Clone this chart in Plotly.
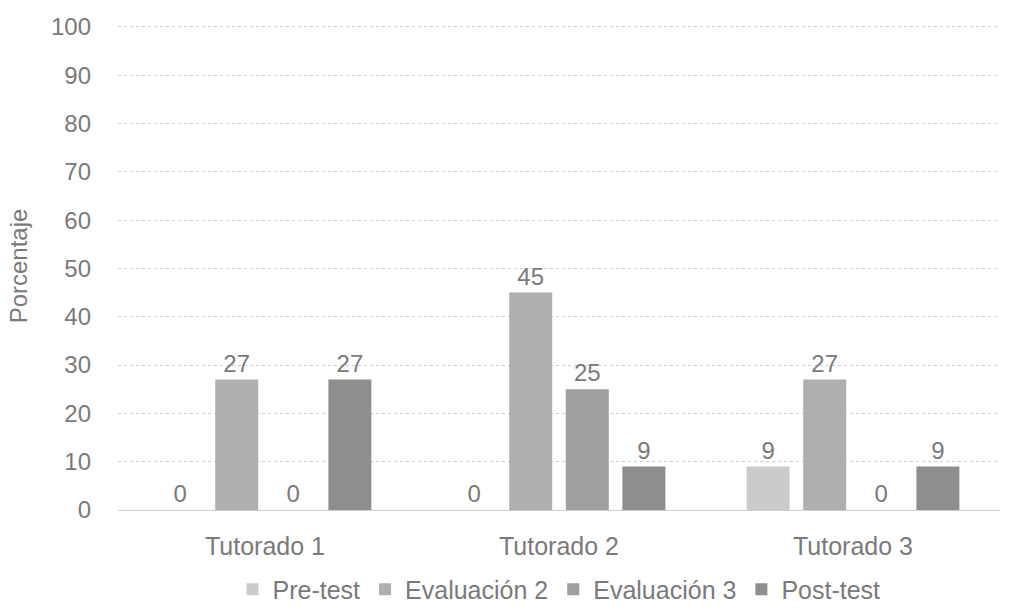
import plotly.graph_objects as go

categories = ["Tutorado 1", "Tutorado 2", "Tutorado 3"]
series_names = ["Pre-test", "Evaluación 2", "Evaluación 3", "Post-test"]
pre_test = [0, 0, 9]
evaluacion_2 = [27, 45, 27]
evaluacion_3 = [0, 25, 0]
post_test = [27, 9, 9]
y_ticks = [0, 10, 20, 30, 40, 50, 60, 70, 80, 90, 100]

series_values = [pre_test, evaluacion_2, evaluacion_3, post_test]
colors = ["#cbcbcb", "#afafaf", "#9f9f9f", "#8e8e8e"]
text_color = "#7a7a7a"
font_family = "Liberation Sans, Arial, sans-serif"

fig = go.Figure()
for name, vals, col in zip(series_names, series_values, colors):
    fig.add_trace(go.Bar(
        x=categories, y=vals, name=name,
        marker=dict(color=col, line=dict(width=0)),
        text=[str(v) for v in vals], textposition="outside",
        textfont=dict(size=24, color=text_color, family=font_family),
        cliponaxis=False,
    ))

fig.update_layout(
    width=1029, height=610,
    margin=dict(l=118, r=29, t=22, b=100, autoexpand=False),
    paper_bgcolor="white", plot_bgcolor="white",
    barmode="group", bargap=0.23, bargroupgap=0.24,
    font=dict(family=font_family, color=text_color, size=24),
    legend=dict(orientation="h", x=0.5, xanchor="center", y=-0.163, yanchor="middle",
                font=dict(size=25, color=text_color), itemwidth=30,
                tracegroupgap=0, traceorder="normal"),
    uniformtext=dict(minsize=10),
)
fig.update_xaxes(showgrid=False, showline=False, ticks="", ticklabelstandoff=19,
                 tickfont=dict(size=25, color=text_color))
fig.update_yaxes(range=[0, 101], tickvals=y_ticks, showgrid=True,
                 gridcolor="#cfcfcf", griddash="dot", gridwidth=1,
                 zeroline=True, zerolinecolor="#cfcfcf", zerolinewidth=1,
                 showline=False, ticks="", ticklabelstandoff=26,
                 tickfont=dict(size=24, color=text_color),
                 title=dict(text="Porcentaje", font=dict(size=24, color=text_color), standoff=16))

fig.write_html("out.html")
